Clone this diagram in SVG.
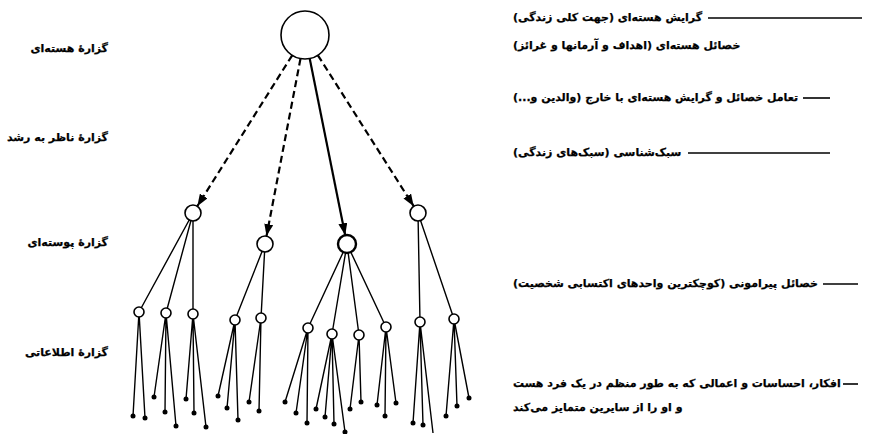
<svg xmlns="http://www.w3.org/2000/svg" width="878" height="434" viewBox="0 0 878 434">
<defs>
<style>
.lbl{font-family:"DejaVu Sans","Noto Sans",sans-serif;font-weight:bold;font-size:11px;fill:#000;stroke:#000;stroke-width:0.25;direction:rtl;unicode-bidi:embed}
.l{text-anchor:start}
.r{text-anchor:end}
.node{fill:#fff;stroke:#000;stroke-width:1.6}
.leaf{fill:#000}
.arr{stroke:#000;stroke-width:2.2;fill:none}
.dash{stroke-dasharray:7 4}
.br{stroke:#000;stroke-width:1.4;fill:none}
.lead{stroke:#000;stroke-width:1.6}
</style>
<marker id="ah" markerUnits="userSpaceOnUse" markerWidth="13" markerHeight="9" refX="12" refY="4.5" orient="auto">
<path d="M0,0 L12,4.5 L0,9 z" fill="#000"/>
</marker>
</defs>
<rect width="878" height="434" fill="#fff"/>

<g id="level-labels">
<text class="lbl l" x="108" y="52">گزارهٔ هسته‌ای</text>
<text class="lbl l" x="108" y="141">گزارهٔ ناظر به رشد</text>
<text class="lbl l" x="108" y="246">گزارهٔ پوسته‌ای</text>
<text class="lbl l" x="108" y="356">گزارهٔ اطلاعاتی</text>
</g>

<g id="connectors">
<line class="arr dash" x1="292.2" y1="55.3" x2="197.3" y2="206.2" marker-end="url(#ah)"/>
<line class="arr dash" x1="300.5" y1="58.6" x2="266.5" y2="236.1" marker-end="url(#ah)"/>
<line class="arr" x1="309.7" y1="58.5" x2="345.2" y2="235.2" marker-end="url(#ah)"/>
<line class="arr dash" x1="317.9" y1="55.3" x2="413.7" y2="206.2" marker-end="url(#ah)"/>
<path class="br" d="M193,213 L139,312 M193,213 L166,313 M193,213 L193,314 M265,244 L235,320 M265,244 L261,318 M347,244 L308,328 M347,244 L332,334 M347,244 L359,335 M347,244 L386,327 M418,213 L420,322 M418,213 L454,319"/>
<path class="br" d="M139,312 L133,416 M139,312 L145,418 M166,313 L154,397 M166,313 L165,412 M166,313 L176,426 M193,314 L186,399 M193,314 L194,413 M193,314 L206,427 M235,320 L218,396 M235,320 L227,408 M235,320 L238,420 M261,318 L249,402 M261,318 L259,411 M308,328 L285,402 M308,328 L296,413 M308,328 L307,423 M332,334 L316,409 M332,334 L325,417 M332,334 L334,424 M332,334 L345,432 M359,335 L350,409 M359,335 L361,402 M386,327 L377,405 M386,327 L385,416 M386,327 L396,403 M420,322 L413,423 M420,322 L423,425 M420,322 L433,433 M454,319 L446,416 M454,319 L457,406 M454,319 L469,398"/>
</g>

<g id="root"><circle class="node" cx="305" cy="35" r="24"/></g>
<g id="n-a"><circle class="node" cx="193" cy="213" r="8"/></g>
<g id="n-b"><circle class="node" cx="265" cy="244" r="8"/></g>
<g id="n-c"><circle class="node" cx="347" cy="244" r="9" style="stroke-width:2.4"/></g>
<g id="n-d"><circle class="node" cx="418" cy="213" r="8"/></g>
<g id="n-a1"><circle class="node" cx="139" cy="312" r="5"/></g>
<g id="n-a2"><circle class="node" cx="166" cy="313" r="5"/></g>
<g id="n-a3"><circle class="node" cx="193" cy="314" r="5"/></g>
<g id="n-b1"><circle class="node" cx="235" cy="320" r="5"/></g>
<g id="n-b2"><circle class="node" cx="261" cy="318" r="5"/></g>
<g id="n-c1"><circle class="node" cx="308" cy="328" r="5"/></g>
<g id="n-c2"><circle class="node" cx="332" cy="334" r="5"/></g>
<g id="n-c3"><circle class="node" cx="359" cy="335" r="5"/></g>
<g id="n-c4"><circle class="node" cx="386" cy="327" r="5"/></g>
<g id="n-d1"><circle class="node" cx="420" cy="322" r="5"/></g>
<g id="n-d2"><circle class="node" cx="454" cy="319" r="5"/></g>

<g id="leaves">
<g id="l-a1-1"><circle class="leaf" cx="133" cy="416" r="2.5"/></g>
<g id="l-a1-2"><circle class="leaf" cx="145" cy="418" r="2.5"/></g>
<g id="l-a2-1"><circle class="leaf" cx="154" cy="397" r="2.5"/></g>
<g id="l-a2-2"><circle class="leaf" cx="165" cy="412" r="2.5"/></g>
<g id="l-a2-3"><circle class="leaf" cx="176" cy="426" r="2.5"/></g>
<g id="l-a3-1"><circle class="leaf" cx="186" cy="399" r="2.5"/></g>
<g id="l-a3-2"><circle class="leaf" cx="194" cy="413" r="2.5"/></g>
<g id="l-a3-3"><circle class="leaf" cx="206" cy="427" r="2.5"/></g>
<g id="l-b1-1"><circle class="leaf" cx="218" cy="396" r="2.5"/></g>
<g id="l-b1-2"><circle class="leaf" cx="227" cy="408" r="2.5"/></g>
<g id="l-b1-3"><circle class="leaf" cx="238" cy="420" r="2.5"/></g>
<g id="l-b2-1"><circle class="leaf" cx="249" cy="402" r="2.5"/></g>
<g id="l-b2-2"><circle class="leaf" cx="259" cy="411" r="2.5"/></g>
<g id="l-c1-1"><circle class="leaf" cx="285" cy="402" r="2.5"/></g>
<g id="l-c1-2"><circle class="leaf" cx="296" cy="413" r="2.5"/></g>
<g id="l-c1-3"><circle class="leaf" cx="307" cy="423" r="2.5"/></g>
<g id="l-c2-1"><circle class="leaf" cx="316" cy="409" r="2.5"/></g>
<g id="l-c2-2"><circle class="leaf" cx="325" cy="417" r="2.5"/></g>
<g id="l-c2-3"><circle class="leaf" cx="334" cy="424" r="2.5"/></g>
<g id="l-c2-4"><circle class="leaf" cx="345" cy="432" r="2.5"/></g>
<g id="l-c3-1"><circle class="leaf" cx="350" cy="409" r="2.5"/></g>
<g id="l-c3-2"><circle class="leaf" cx="361" cy="402" r="2.5"/></g>
<g id="l-c4-1"><circle class="leaf" cx="377" cy="405" r="2.5"/></g>
<g id="l-c4-2"><circle class="leaf" cx="385" cy="416" r="2.5"/></g>
<g id="l-c4-3"><circle class="leaf" cx="396" cy="403" r="2.5"/></g>
<g id="l-d1-1"><circle class="leaf" cx="413" cy="423" r="2.5"/></g>
<g id="l-d1-2"><circle class="leaf" cx="423" cy="425" r="2.5"/></g>
<g id="l-d2-1"><circle class="leaf" cx="446" cy="416" r="2.5"/></g>
<g id="l-d2-2"><circle class="leaf" cx="457" cy="406" r="2.5"/></g>
<g id="l-d2-3"><circle class="leaf" cx="469" cy="398" r="2.5"/></g>
</g>

<g id="leaders">
<line class="lead" x1="708" y1="18" x2="862" y2="18"/>
<line class="lead" x1="803" y1="98" x2="830" y2="98"/>
<line class="lead" x1="688" y1="153" x2="830" y2="153"/>
<line class="lead" x1="823" y1="284" x2="858" y2="284"/>
<line class="lead" x1="843" y1="384" x2="858" y2="384"/>
</g>

<g id="descriptions">
<text class="lbl r" x="513" y="21">گرایش هسته‌ای (جهت کلی زندگی)</text>
<text class="lbl r" x="513" y="49">خصائل هسته‌ای (اهداف و آرمانها و غرائز)</text>
<text class="lbl r" x="513" y="101">تعامل خصائل و گرایش هسته‌ای با خارج (والدین و...)</text>
<text class="lbl r" x="513" y="156">سبک‌شناسی (سبک‌های زندگی)</text>
<text class="lbl r" x="513" y="287">خصائل پیرامونی (کوچکترین واحدهای اکتسابی شخصیت)</text>
<text class="lbl r" x="513" y="387">افکار، احساسات و اعمالی که به طور منظم در یک فرد هست</text>
<text class="lbl r" x="513" y="411">و او را از سایرین متمایز می‌کند</text>
</g>
</svg>
